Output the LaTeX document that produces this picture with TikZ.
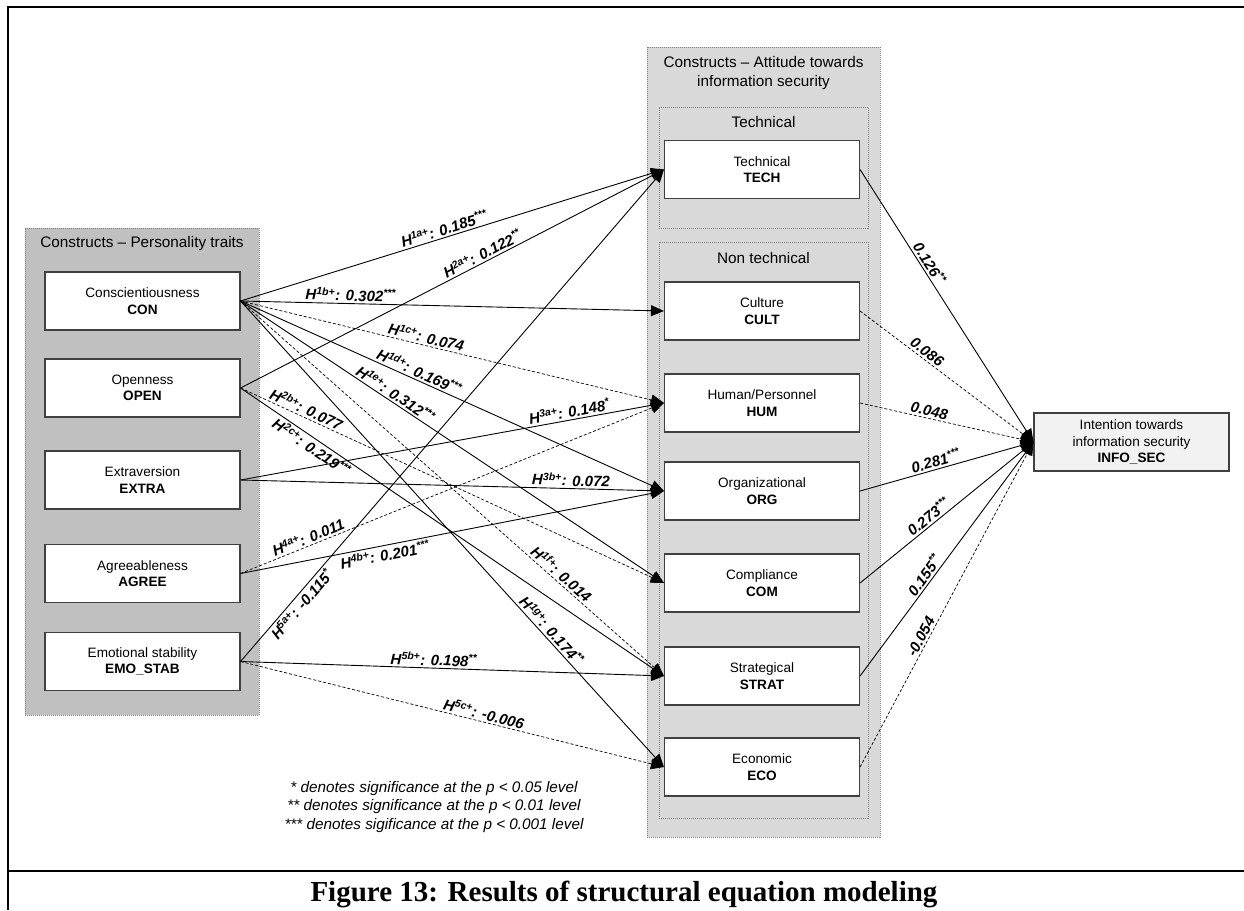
\documentclass[tikz,border=0pt]{standalone}
\usepackage{fontspec}
\setmainfont{Liberation Sans}
\newfontfamily\capfont{Liberation Serif}
\usetikzlibrary{arrows.meta}

\definecolor{traitgray}{HTML}{C0C0C0}
\definecolor{attgray}{HTML}{D9D9D9}
\definecolor{boxedge}{HTML}{404040}
\definecolor{grpedge}{HTML}{808080}
\definecolor{infofill}{HTML}{F2F2F2}

\begin{document}
\begin{tikzpicture}[x=1pt,y=-1pt,
  construct/.style={draw=boxedge, line width=1.1pt, fill=white,
    minimum width=195pt, minimum height=58pt, align=center, inner sep=0pt,
    font=\fontsize{13.6}{16.5}\selectfont},
  grp/.style={draw=grpedge, line width=0.6pt, dash pattern=on 1pt off 1pt, inner sep=0pt},
  grptitle/.style={align=center, inner sep=0pt, font=\fontsize{15.3}{18.3}\selectfont},
  sig/.style={draw, line width=0.9pt, -{Triangle[length=13pt,width=11pt]}},
  nonsig/.style={sig, line width=0.7pt, dash pattern=on 3pt off 2pt},
  coef/.style={font=\fontsize{15}{18}\selectfont\bfseries\itshape, sloped, inner sep=2pt},
  frameline/.style={line width=2.5pt, line join=miter}
]
\useasboundingbox (0,0) rectangle (1244,910);

% page frame and caption rule
\coordinate (tl) at (8,7);
\coordinate (tr) at (1244,7);
\coordinate (bl) at (8,910);
\coordinate (ml) at (8,871);
\coordinate (mr) at (1244,871);
\draw[frameline] (tr) -- (tl) -- (bl);
\draw[frameline] (ml) -- (mr);

% construct groups
\node[grp, fill=traitgray, minimum width=234pt, minimum height=487pt] (traits) at (142,471.5) {};
\node[grp, fill=attgray, minimum width=233pt, minimum height=790pt] (attitude) at (763.5,442) {};
\node[grp, fill=attgray, minimum width=209pt, minimum height=121pt] (techgrp) at (763.5,167.5) {};
\node[grp, fill=attgray, minimum width=209pt, minimum height=576pt] (nontechgrp) at (763.5,530) {};

\node[grptitle] (traitsT) at (142,244) {Constructs – Personality traits};
\node[grptitle] (attT) at (763.5,73) {Constructs – Attitude towards\\information security};
\node[grptitle] (techT) at (763.5,122) {Technical};
\node[grptitle] (nontechT) at (763.5,258) {Non technical};

% personality traits
\node[construct] (con)   at (142.5,301)   {Conscientiousness\\\textbf{CON}};
\node[construct] (open)  at (142.5,388)   {Openness\\\textbf{OPEN}};
\node[construct] (extra) at (142.5,480)   {Extraversion\\\textbf{EXTRA}};
\node[construct] (agree) at (142.5,573.5) {Agreeableness\\\textbf{AGREE}};
\node[construct] (emo)   at (142.5,661.5) {Emotional stability\\\textbf{EMO\_STAB}};

% attitude towards information security
\node[construct] (tech)  at (762,169.5) {Technical\\\textbf{TECH}};
\node[construct] (cult)  at (762,311)   {Culture\\\textbf{CULT}};
\node[construct] (hum)   at (762,403)   {Human/Personnel\\\textbf{HUM}};
\node[construct] (org)   at (762,491)   {Organizational\\\textbf{ORG}};
\node[construct] (com)   at (762,583)   {Compliance\\\textbf{COM}};
\node[construct] (strat) at (762,676)   {Strategical\\\textbf{STRAT}};
\node[construct] (eco)   at (762,767)   {Economic\\\textbf{ECO}};

% intention
\node[construct, fill=infofill] (info) at (1131.5,442)
  {Intention towards\\information security\\\textbf{INFO\_SEC}};

% hypotheses: personality traits -> attitude
\draw[sig]    (con.east) -- node[coef, pos=0.487, above] {H\textsuperscript{1a+}: 0.185\textsuperscript{***}} (tech.west);
\draw[sig]    (con.east) -- node[coef, pos=0.26, above]  {H\textsuperscript{1b+}: 0.302\textsuperscript{***}} (cult.west);
\draw[nonsig] (con.east) -- node[coef, pos=0.434, above] {H\textsuperscript{1c+}: 0.074} (hum.west);
\draw[sig]    (con.east) -- node[coef, pos=0.414, above] {H\textsuperscript{1d+}: 0.169\textsuperscript{***}} (org.west);
\draw[sig]    (con.east) -- node[coef, pos=0.355, above] {H\textsuperscript{1e+}: 0.312\textsuperscript{***}} (com.west);
\draw[nonsig] (con.east) -- node[coef, pos=0.745, above] {H\textsuperscript{1f+}: 0.014} (strat.west);
\draw[sig]    (con.east) -- node[coef, pos=0.72, above]  {H\textsuperscript{1g+}: 0.174\textsuperscript{**}} (eco.west);

\draw[sig]    (open.east) -- node[coef, pos=0.58, above]  {H\textsuperscript{2a+}: 0.122\textsuperscript{**}} (tech.west);
\draw[nonsig] (open.east) -- node[coef, pos=0.147, above] {H\textsuperscript{2b+}: 0.077} (com.west);
\draw[sig]    (open.east) -- node[coef, pos=0.18, below]  {H\textsuperscript{2c+}: 0.219\textsuperscript{***}} (strat.west);

\draw[sig]    (extra.east) -- node[coef, pos=0.78, above] {H\textsuperscript{3a+}: 0.148\textsuperscript{*}} (hum.west);
\draw[sig]    (extra.east) -- node[coef, pos=0.78, above] {H\textsuperscript{3b+}: 0.072} (org.west);

\draw[nonsig] (agree.east) -- node[coef, pos=0.167, above] {H\textsuperscript{4a+}: 0.011} (hum.west);
\draw[sig]    (agree.east) -- node[coef, pos=0.337, below] {H\textsuperscript{4b+}: 0.201\textsuperscript{***}} (org.west);

\draw[sig]    (emo.east) -- node[coef, pos=0.128, below] {H\textsuperscript{5a+}: -0.115\textsuperscript{*}} (tech.west);
\draw[sig]    (emo.east) -- node[coef, pos=0.456, above] {H\textsuperscript{5b+}: 0.198\textsuperscript{**}} (strat.west);
\draw[nonsig] (emo.east) -- node[coef, pos=0.57, above]  {H\textsuperscript{5c+}: -0.006} (eco.west);

% attitude -> intention
\draw[sig]    (tech.east)  -- node[coef, pos=0.36, above]  {0.126\textsuperscript{**}} (info.west);
\draw[nonsig] (cult.east)  -- node[coef, pos=0.36, above]  {0.086} (info.west);
\draw[nonsig] (hum.east)   -- node[coef, pos=0.39, above]  {0.048} (info.west);
\draw[sig]    (org.east)   -- node[coef, pos=0.45, above]  {0.281\textsuperscript{***}} (info.west);
\draw[sig]    (com.east)   -- node[coef, pos=0.425, above] {0.273\textsuperscript{***}} (info.west);
\draw[sig]    (strat.east) -- node[coef, pos=0.41, above]  {0.155\textsuperscript{**}} (info.west);
\draw[nonsig] (eco.east)   -- node[coef, pos=0.39, above]  {-0.054} (info.west);

% significance legend
\node[align=center, inner sep=0pt, font=\itshape\fontsize{15.3}{18.5}\selectfont] (legend) at (434,807)
  {* denotes significance at the p < 0.05 level\\
   ** denotes significance at the p < 0.01 level\\
   *** denotes sigificance at the p < 0.001 level};

% caption
\node[anchor=base, inner sep=0pt, font=\capfont\bfseries\fontsize{29}{34}\selectfont] (caption) at (624,901)
  {Figure 13: Results of structural equation modeling};
\end{tikzpicture}
\end{document}
